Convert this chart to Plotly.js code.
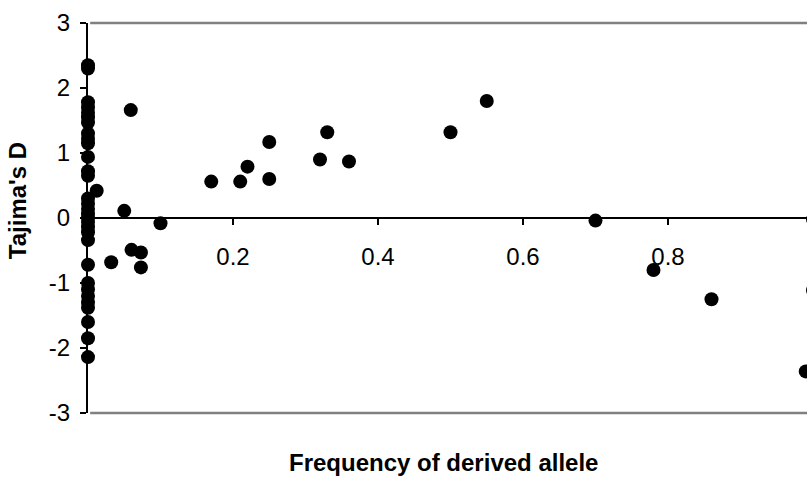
<!DOCTYPE html>
<html>
<head>
<meta charset="utf-8">
<script src="https://cdn.plot.ly/plotly-3.0.1.min.js"></script>
<style>
  html, body { margin: 0; padding: 0; overflow: hidden; background: #fff; }
  #chart { width: 816px; height: 482px; }
</style>
</head>
<body>
<div id="chart"></div>
<script>
// Frequency of derived allele (x) and Tajima's D (y)
const freq = [
  0, 0, 0, 0, 0, 0, 0, 0, 0, 0,
  0, 0, 0, 0, 0, 0, 0, 0, 0, 0,
  0, 0, 0, 0, 0, 0, 0, 0, 0, 0, 0,
  0.012, 0.059, 0.032, 0.05, 0.10, 0.06, 0.073, 0.073,
  0.17, 0.21, 0.22, 0.25, 0.25, 0.33, 0.32, 0.36,
  0.50, 0.55, 0.70, 0.78, 0.86, 0.99, 1.0, 1.0
];
const tajimaD = [
  2.35, 2.30, 1.78, 1.70, 1.62, 1.55, 1.47, 1.30, 1.22, 1.15,
  0.94, 0.72, 0.65, 0.30, 0.22, 0.14, 0.06, 0.0, -0.06, -0.14,
  -0.22, -0.34, -0.72, -1.0, -1.1, -1.2, -1.3, -1.38, -1.6, -1.85, -2.14,
  0.42, 1.66, -0.68, 0.11, -0.08, -0.49, -0.53, -0.76,
  0.56, 0.56, 0.79, 1.17, 0.60, 1.32, 0.90, 0.87,
  1.32, 1.80, -0.04, -0.80, -1.25, -2.36, -1.11, -0.02
];
const xTickVals = [0, 0.2, 0.4, 0.6, 0.8, 1.0];
const xTickText = ['', '0.2', '0.4', '0.6', '0.8', ''];
const yTickVals = [-3, -2, -1, 0, 1, 2, 3];
const yTickText = ['-3', '-2', '-1', '0', '1', '2', '3'];
const xTitle = 'Frequency of derived allele';
const yTitle = "Tajima's D";

const font = 'Liberation Sans, Arial, sans-serif';

const trace = {
  type: 'scatter',
  mode: 'markers',
  x: freq,
  y: tajimaD,
  marker: { color: '#000', size: 14, line: { width: 0 } },
  cliponaxis: false,
  hoverinfo: 'skip'
};

const layout = {
  width: 816,
  height: 482,
  margin: { l: 88, r: 3, t: 23, b: 69 },
  paper_bgcolor: '#fff',
  plot_bgcolor: '#fff',
  showlegend: false,
  font: { family: font, color: '#000', size: 24 },
  xaxis: {
    range: [0, 1],
    anchor: 'free',
    position: 0.5,
    showline: true, linecolor: '#000', linewidth: 2,
    ticks: 'outside', ticklen: 6, tickwidth: 2, tickcolor: '#000',
    tickvals: xTickVals, ticktext: xTickText,
    ticklabelstandoff: 11,
    tickfont: { family: font, size: 24, color: '#000' },
    showgrid: false, zeroline: false, fixedrange: true
  },
  yaxis: {
    range: [-3, 3],
    tickvals: yTickVals, ticktext: yTickText,
    showline: true, linecolor: '#000', linewidth: 2,
    ticks: 'outside', ticklen: 6, tickwidth: 2, tickcolor: '#000',
    ticklabelstandoff: 5,
    tickfont: { family: font, size: 24, color: '#000' },
    showgrid: false, zeroline: false, fixedrange: true
  },
  shapes: [
    { type: 'line', xref: 'paper', yref: 'paper', x0: 0.003, x1: 1, y0: 1, y1: 1,
      line: { color: '#808080', width: 2.5 }, layer: 'above' },
    { type: 'line', xref: 'paper', yref: 'paper', x0: 0.003, x1: 1, y0: 0, y1: 0,
      line: { color: '#808080', width: 2.5 }, layer: 'above' }
  ],
  annotations: [
    { text: '<b>' + xTitle + '</b>', xref: 'paper', yref: 'paper',
      x: 0.491, y: -0.128, xanchor: 'center', yanchor: 'middle',
      showarrow: false, font: { family: font, size: 24, color: '#000' } },
    { text: '<b>' + yTitle + '</b>', xref: 'paper', yref: 'paper',
      x: -0.097, y: 0.545, xanchor: 'center', yanchor: 'middle', textangle: -90,
      showarrow: false, font: { family: font, size: 24, color: '#000' } }
  ]
};

Plotly.newPlot('chart', [trace], layout, { staticPlot: true, displayModeBar: false });
</script>
</body>
</html>
